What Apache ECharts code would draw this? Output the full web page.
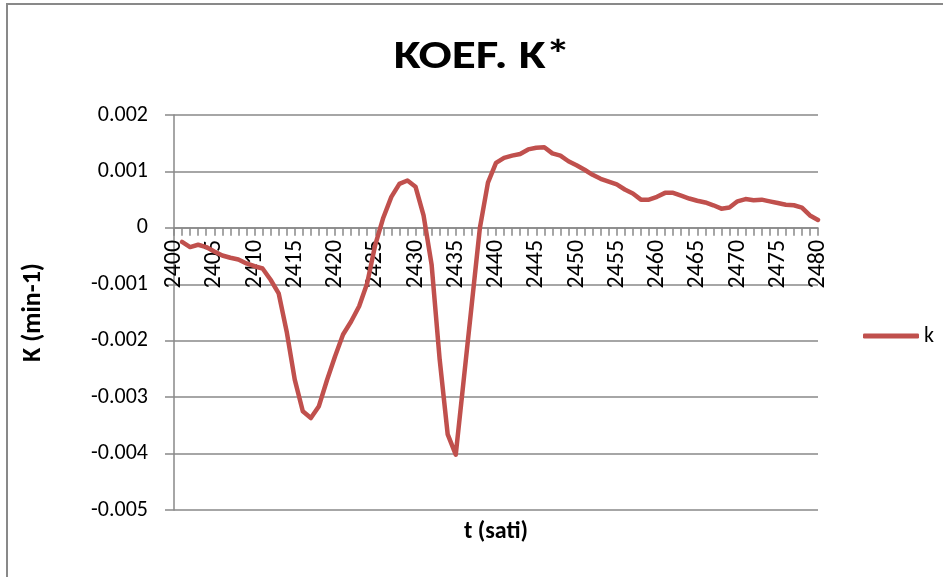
<!DOCTYPE html>
<html>
<head>
<meta charset="utf-8">
<script src="https://cdn.jsdelivr.net/npm/echarts@6/dist/echarts.min.js"></script>
<style>
html,body{margin:0;padding:0;background:#fff;}
#c{width:943px;height:577px;}
</style>
</head>
<body>
<div id="c"></div>
<script>
// Categories: t (sati) 2400..2480
var categories = [];
for (var t = 2400; t <= 2480; t++) categories.push(String(t));

// Series "k" values (K, min-1); 2400 has no value
var kValues = [
  null,     -0.00025, -0.00034, -0.00030, -0.00034, -0.00042, -0.00049, -0.00053, -0.00056, -0.00063,
  -0.00068, -0.00072, -0.00092, -0.00116, -0.00184, -0.00269, -0.00325, -0.00337, -0.00316, -0.00270,
  -0.00228, -0.00189, -0.00166, -0.00139, -0.00098, -0.00030,  0.00018,  0.00055,  0.00078,  0.00084,
   0.00073,  0.00022, -0.00065, -0.00233, -0.00366, -0.00402, -0.00268, -0.00134,  0.00000,  0.00080,
   0.00115,  0.00124,  0.00128,  0.00131,  0.00139,  0.00142,  0.00143,  0.00132,  0.00128,  0.00118,
   0.00111,  0.00103,  0.00094,  0.00087,  0.00082,  0.00077,  0.00068,  0.00061,  0.00050,  0.00050,
   0.00055,  0.00062,  0.00062,  0.00057,  0.00052,  0.00048,  0.00045,  0.00040,  0.00034,  0.00036,
   0.00047,  0.00051,  0.00049,  0.00050,  0.00047,  0.00044,  0.00041,  0.00040,  0.00036,  0.00022,
   0.00014
];

// Y-axis tick values
var yTicks = [0.002, 0.001, 0, -0.001, -0.002, -0.003, -0.004, -0.005];
var yMin = -0.005, yMax = 0.002;

var FONT = 'Carlito, Lato, sans-serif';
var GRAY = '#898989';
var GRID_TOP = 115, GRID_BOTTOM = 67, H = 577;
// place the category axis at value 0 (its labels follow it)
var plotH = H - GRID_TOP - GRID_BOTTOM;
var zeroOffset = -plotH * (0 - yMin) / (yMax - yMin);

var chart = echarts.init(document.getElementById('c'));
chart.setOption({
  animation: false,
  backgroundColor: '#fff',
  legend: {
    data: ['k'],
    left: 858,
    top: 320,
    orient: 'vertical',
    icon: 'roundRect',
    itemWidth: 56,
    itemHeight: 5,
    itemGap: 5,
    textStyle: { fontFamily: FONT, fontSize: 22, color: '#000' }
  },
  grid: { left: 174, right: 125, top: GRID_TOP, bottom: GRID_BOTTOM, containLabel: false },
  xAxis: {
    type: 'category',
    data: categories,
    boundaryGap: false,
    position: 'bottom',
    offset: zeroOffset,
    axisLine: { onZero: false, lineStyle: { color: GRAY, width: 1.5 } },
    axisTick: { show: true, interval: 0, length: 8, lineStyle: { color: GRAY, width: 1.5 } },
    axisLabel: { interval: 4, rotate: 90, margin: 12, fontFamily: FONT, fontSize: 24, color: '#000' },
    splitLine: { show: false }
  },
  yAxis: {
    type: 'value',
    min: yMin,
    max: yMax,
    interval: 0.001,
    name: 'K (min-1)',
    nameLocation: 'middle',
    nameGap: 128,
    nameTextStyle: { fontFamily: FONT, fontWeight: 'bold', fontSize: 26, color: '#000' },
    axisLine: { show: true, lineStyle: { color: GRAY, width: 1.5 } },
    axisTick: { show: true, length: 9, lineStyle: { color: GRAY, width: 1.5 } },
    axisLabel: {
      margin: 26, fontFamily: FONT, fontSize: 22, color: '#000',
      formatter: function (v) {
        var best = yTicks.reduce(function (a, b) { return Math.abs(b - v) < Math.abs(a - v) ? b : a; });
        return String(best);
      }
    },
    splitLine: { show: true, lineStyle: { color: GRAY, width: 1.5 } }
  },
  graphic: [
    { type: 'rect', shape: { x: 7, y: 4, width: 1000, height: 700 },
      style: { fill: 'none', stroke: GRAY, lineWidth: 2 }, silent: true },
    { type: 'text', x: 482, y: 58, scaleX: 1.2,
      style: { text: 'KOEF. K*', fontFamily: FONT, fontWeight: 'bold', fontSize: 41, fill: '#000',
               textAlign: 'center', textVerticalAlign: 'middle' } },
    { type: 'text', x: 496, y: 532,
      style: { text: 't (sati)', fontFamily: FONT, fontWeight: 'bold', fontSize: 24, fill: '#000',
               textAlign: 'center', textVerticalAlign: 'middle' } }
  ],
  series: [{
    name: 'k',
    type: 'line',
    data: kValues,
    symbol: 'none',
    smooth: false,
    connectNulls: false,
    itemStyle: { color: '#C0504D' },
    lineStyle: { color: '#C0504D', width: 4.5, join: 'round', cap: 'round' }
  }]
});
</script>
</body>
</html>
